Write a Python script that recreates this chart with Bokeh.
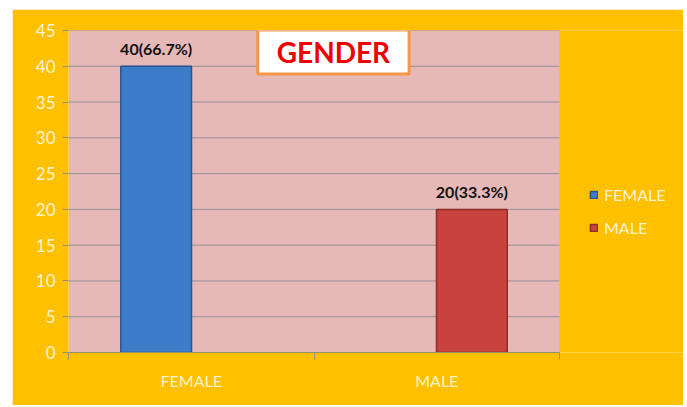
from bokeh.plotting import figure
from bokeh.models import (ColumnDataSource, Range1d, FixedTicker, Legend, LegendItem, Label)
from bokeh.core.properties import value
from bokeh.embed import file_html
from bokeh.resources import INLINE

# ---- data ----
categories = ["FEMALE", "MALE"]
counts = [40, 20]
value_labels = ["40(66.7%)", "20(33.3%)"]
bar_colors = ["#3D7CC8", "#C8423E"]
bar_edges = ["#2A5590", "#8E2C2A"]
y_ticks = [0, 5, 10, 15, 20, 25, 30, 35, 40, 45]
title_text = "GENDER"

DODGE = 0.143
BAR_W = 0.288
FONT = "Lato"
N = len(categories)
X_END = 2.505          # frame extends right into the legend area
Y_MAX = 45

cat_centers = [i + 0.5 for i in range(N)]
offsets = [-DODGE, DODGE]
bar_x = [c + o for c, o in zip(cat_centers, offsets)]

p = figure(width=671, height=396, output_backend="svg", toolbar_location=None,
           x_range=Range1d(0, X_END), y_range=Range1d(0, Y_MAX))
p.margin = (9, 4, 2, 12)
p.min_border_left = 56
p.min_border_right = 0
p.min_border_top = 21
p.min_border_bottom = 53
p.border_fill_color = "#FFC000"
p.background_fill_color = "#FFC000"
p.outline_line_color = None

# pink plot area over the category span
p.quad(left=[0], right=[N], bottom=[0], top=[Y_MAX], fill_color="#E6B9B8",
       line_color=None, level="image")
# horizontal gridlines over the plot area only
p.segment(x0=[0] * len(y_ticks), x1=[N] * len(y_ticks), y0=y_ticks, y1=y_ticks,
          line_color="#989090", line_width=1)

# axes
p.xaxis.ticker = FixedTicker(ticks=cat_centers, minor_ticks=list(range(N + 1)))
p.xaxis.major_label_overrides = {c: n for c, n in zip(cat_centers, categories)}
p.xaxis.bounds = (0, N)
p.xaxis.major_tick_out = 0
p.xaxis.major_tick_in = 0
p.xaxis.minor_tick_out = 7
p.xaxis.minor_tick_in = 0
p.xaxis.minor_tick_line_color = "#9A8F70"
p.xaxis.axis_line_color = "#9A8F70"
p.xaxis.major_label_standoff = 11
p.xaxis.major_label_text_font = FONT
p.xaxis.major_label_text_font_size = "16px"
p.xaxis.major_label_text_color = "#FFF3D0"

p.yaxis.ticker = FixedTicker(ticks=y_ticks)
p.yaxis.axis_line_color = None
p.yaxis.major_tick_out = 6
p.yaxis.major_tick_in = 0
p.yaxis.minor_tick_line_color = None
p.yaxis.major_tick_line_color = "#9A8F70"
p.yaxis.major_label_standoff = 7
p.yaxis.major_label_text_font = FONT
p.yaxis.major_label_text_font_size = "17px"
p.yaxis.major_label_text_color = "#FFF3D0"

p.grid.grid_line_color = None

renderers = []
for i in range(N):
    src = ColumnDataSource(dict(x=[bar_x[i]], top=[counts[i]], lab=[value_labels[i]]))
    r = p.vbar(x="x", top="top", bottom=0, width=BAR_W, source=src,
               fill_color=bar_colors[i], line_color=bar_edges[i], line_width=1.5)
    renderers.append(r)
    p.text(x="x", y="top", text="lab", source=src, text_align="center",
           text_baseline="bottom", y_offset=-8, text_font=value(FONT),
           text_font_style="bold", text_font_size="16px", text_color="#111111")

legend = Legend(items=[LegendItem(label=c, renderers=[r]) for c, r in zip(categories, renderers)],
                location=(521, 115), glyph_width=9, glyph_height=9,
                label_text_font=FONT, label_text_font_size="16px",
                label_text_color="#FFF3D0", spacing=14, padding=0, margin=0,
                label_standoff=6, background_fill_alpha=0, border_line_color=None)
p.add_layout(legend, "center")

title = Label(x=1.079, y=42.0, text=title_text, text_align="center",
              text_baseline="middle", text_font=FONT, text_font_style="bold",
              text_font_size="28px", text_color="#EE0000",
              background_fill_color="white", border_line_color="#F79646",
              border_line_width=3, padding=(19, 5))
p.add_layout(title)

open("out.html", "w").write(file_html(p, INLINE))
